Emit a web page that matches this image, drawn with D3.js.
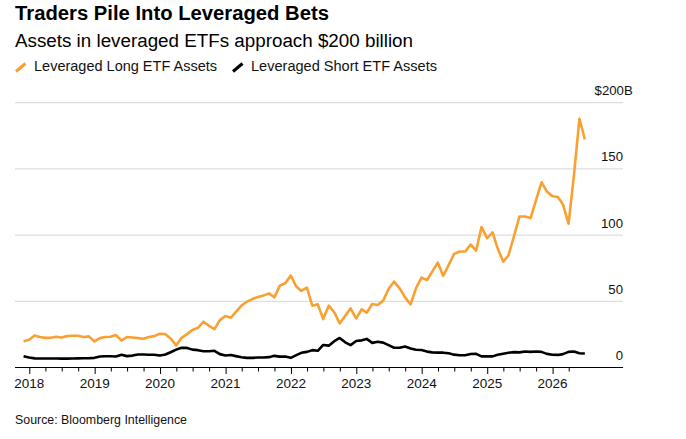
<!DOCTYPE html>
<html>
<head>
  <meta charset="utf-8">
  <title>Traders Pile Into Leveraged Bets</title>
  <script src="https://cdn.jsdelivr.net/npm/d3@7"></script>
  <style>
    body { margin: 0; background: #fff; font-family: "Liberation Sans", Arial, sans-serif; }
    svg { display: block; }
  </style>
</head>
<body>
  <main id="container"></main>
  <script>
    // monthly (month-end) values, Nov 2017 .. Jun 2026, $ billions
    const firstMonth = new Date(2017, 10, 1);
    const lastMonth = new Date(2026, 5, 1);

    const longAssets = [
      19.9, 20.9, 24.2, 23.0, 22.4, 22.4, 23.2, 22.6, 23.7, 24.0, 24.0, 23.0,
      23.5, 19.7, 22.2, 23.0, 23.2, 24.5, 20.4, 23.0, 22.6, 22.2, 21.7, 23.0,
      23.7, 25.5, 25.2, 21.9, 16.7, 22.4, 25.2, 28.3, 30.0, 34.6, 31.5, 29.0,
      35.8, 38.9, 37.6, 42.1, 46.7, 49.7, 51.7, 53.3, 54.3, 56.0, 53.0, 61.8,
      63.6, 69.4, 61.1, 57.8, 60.3, 46.7, 47.7, 36.6, 46.7, 41.7, 33.3, 39.0,
      44.7, 37.1, 43.9, 41.4, 48.0, 47.2, 50.5, 59.3, 64.9, 59.8, 53.0, 47.7,
      59.8, 67.9, 66.1, 72.4, 79.2, 69.2, 77.5, 85.8, 87.6, 87.6, 92.9, 88.3,
      106.1, 97.7, 102.0, 90.0, 80.0, 84.8, 99.5, 114.1, 114.1, 112.9, 126.2, 139.9,
      133.0, 129.3, 128.8, 123.0, 108.6, 145.0, 187.9, 172.2
    ];

    const shortAssets = [
      8.5, 7.5, 6.9, 6.8, 6.8, 6.8, 6.8, 6.7, 6.7, 6.8, 6.9, 7.0,
      7.0, 7.3, 8.3, 8.5, 8.5, 8.3, 9.6, 8.6, 9.0, 9.8, 9.8, 9.6,
      9.6, 9.0, 9.8, 11.5, 13.5, 14.9, 14.8, 13.5, 13.1, 12.3, 12.3, 12.6,
      10.1, 9.1, 9.5, 8.6, 7.8, 7.3, 7.3, 7.5, 7.6, 7.8, 8.8, 8.2,
      8.3, 7.3, 9.3, 11.1, 11.8, 13.1, 12.6, 17.0, 16.5, 19.9, 22.3, 19.0,
      16.9, 20.0, 20.5, 21.6, 18.6, 19.5, 18.8, 16.9, 14.9, 14.9, 15.9, 14.4,
      13.4, 13.2, 12.0, 11.4, 11.2, 11.2, 10.7, 9.7, 9.2, 9.3, 10.2, 10.3,
      8.4, 8.5, 8.4, 9.6, 10.4, 11.2, 11.6, 11.4, 12.1, 11.8, 12.1, 11.8,
      10.3, 9.6, 9.5, 10.1, 11.8, 12.1, 10.8, 10.6
    ];

    const yTicks = [0, 50, 100, 150, 200];
    const yearTicks = [2018, 2019, 2020, 2021, 2022, 2023, 2024, 2025, 2026];

    const seriesNames = ["Leveraged Long ETF Assets", "Leveraged Short ETF Assets"];
    const seriesColors = ["#f9a032", "#000000"];

    // ---- layout
    const vizWidth = 686;
    const vizHeight = 439;
    const plotLeft = 15;
    const plotRight = 623;

    const dates = d3.timeMonth.range(firstMonth, d3.timeMonth.offset(lastMonth, 1))
      .map(m => d3.timeDay.offset(d3.timeMonth.offset(m, 1), -1));

    const x = d3.scaleTime()
      .domain([new Date(2018, 0, 1), new Date(2026, 0, 1)])
      .range([29.3, 552.6]);

    const y = d3.scaleLinear()
      .domain([0, 200])
      .range([367.5, 102.7]);

    const svg = d3.select("#container")
      .append("svg")
      .attr("width", vizWidth)
      .attr("height", vizHeight);

    // titles (the Bloomberg face is wider than ours, so stretch to its width)
    svg.append("text")
      .attr("x", 15).attr("y", 19.5)
      .attr("font-size", 19.5).attr("font-weight", "bold").attr("fill", "#000")
      .attr("textLength", 314).attr("lengthAdjust", "spacingAndGlyphs")
      .text("Traders Pile Into Leveraged Bets");

    svg.append("text")
      .attr("x", 15).attr("y", 47)
      .attr("font-size", 18).attr("fill", "#000")
      .attr("textLength", 398).attr("lengthAdjust", "spacingAndGlyphs")
      .text("Assets in leveraged ETFs approach $200 billion");

    // legend
    const legendX = [16, 233];
    const legendW = [183, 186];
    const legend = svg.selectAll("g.legend")
      .data(seriesNames)
      .join("g")
      .attr("class", "legend")
      .attr("transform", (d, i) => `translate(${legendX[i]},0)`);

    legend.append("line")
      .attr("x1", 0).attr("y1", 71.5)
      .attr("x2", 9.5).attr("y2", 63.5)
      .attr("stroke", (d, i) => seriesColors[i])
      .attr("stroke-width", 3);

    legend.append("text")
      .attr("x", 18).attr("y", 70.8)
      .attr("font-size", 14).attr("fill", "#111")
      .attr("textLength", (d, i) => legendW[i]).attr("lengthAdjust", "spacingAndGlyphs")
      .text(d => d);

    // gridlines
    svg.selectAll("line.grid")
      .data(yTicks.filter(d => d > 0))
      .join("line")
      .attr("class", "grid")
      .attr("x1", plotLeft).attr("x2", plotRight)
      .attr("y1", d => y(d)).attr("y2", d => y(d))
      .attr("stroke", "#d6d6d6").attr("stroke-width", 1);

    svg.selectAll("text.ylab")
      .data(yTicks)
      .join("text")
      .attr("class", "ylab")
      .attr("x", d => d === 200 ? 632.7 : plotRight)
      .attr("y", d => y(d) - 7.5)
      .attr("text-anchor", "end")
      .attr("font-size", 13.2).attr("fill", "#111")
      .text(d => d === 200 ? "$200B" : d);

    // x axis
    const quarterTicks = d3.timeMonth.every(3).range(new Date(2018, 0, 1), new Date(2026, 4, 1));
    const xAxis = d3.axisBottom(x)
      .tickValues(quarterTicks)
      .tickSize(4)
      .tickFormat("");

    const axisG = svg.append("g")
      .attr("transform", `translate(0,${y(0)})`)
      .call(xAxis);
    axisG.select(".domain").remove();
    axisG.selectAll(".tick line")
      .attr("stroke", "#000")
      .attr("y2", d => d.getMonth() === 0 ? 6.5 : 4);

    axisG.append("line")
      .attr("x1", plotLeft).attr("x2", plotRight)
      .attr("stroke", "#000").attr("stroke-width", 1);

    svg.selectAll("text.xlab")
      .data(yearTicks)
      .join("text")
      .attr("class", "xlab")
      .attr("x", d => x(new Date(d, 0, 1)))
      .attr("y", 388)
      .attr("text-anchor", "middle")
      .attr("font-size", 13.5).attr("fill", "#111")
      .text(d => d);

    // lines
    const line = d3.line()
      .x((d, i) => x(dates[i]))
      .y(d => y(d));

    svg.selectAll("path.series")
      .data([shortAssets, longAssets])
      .join("path")
      .attr("class", "series")
      .attr("d", line)
      .attr("fill", "none")
      .attr("stroke", (d, i) => i === 0 ? seriesColors[1] : seriesColors[0])
      .attr("stroke-width", 2.6)
      .attr("stroke-linejoin", "round");

    // source
    svg.append("text")
      .attr("x", 15).attr("y", 423.5)
      .attr("font-size", 12.2).attr("fill", "#111")
      .attr("textLength", 172).attr("lengthAdjust", "spacingAndGlyphs")
      .text("Source: Bloomberg Intelligence");
  </script>
</body>
</html>
